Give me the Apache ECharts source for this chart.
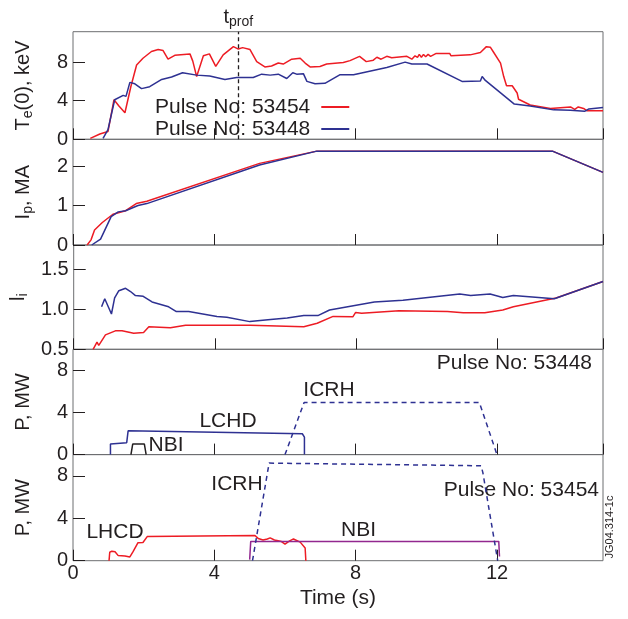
<!DOCTYPE html>
<html>
<head>
<meta charset="utf-8">
<script src="https://cdn.jsdelivr.net/npm/echarts@6/dist/echarts.min.js"></script>
<style>
  html, body { margin: 0; padding: 0; background: #fff; }
  #main { width: 628px; height: 619px; }
</style>
</head>
<body>
<div id="main"></div>
<script>
// time (s), value pairs
const teRed = [[0.49,0.1],[0.76,0.55],[0.99,0.8],[1.04,1.0],[1.16,4.1],[1.3,3.45],[1.47,2.75],[1.64,5.5],[1.8,7.7],[1.98,8.4],[2.22,9.1],[2.41,9.3],[2.55,9.2],[2.69,8.3],[2.88,8.7],[3.31,8.85],[3.39,8.1],[3.5,6.5],[3.69,8.65],[3.86,8.85],[4.04,7.55],[4.25,8.75],[4.54,9.6],[4.68,9.35],[4.8,9.5],[5.01,9.3],[5.2,8.05],[5.43,7.5],[5.62,7.6],[5.81,7.9],[5.95,7.8],[6.19,8.3],[6.43,8.4],[6.57,7.9],[6.71,7.5],[6.99,7.55],[7.18,7.8],[7.65,7.95],[7.84,8.15],[8.11,8.6],[8.3,8.05],[8.5,8.2],[8.6,8.5],[8.72,8.3],[8.88,8.6],[9.02,8.45],[9.45,8.6],[9.59,8.3],[9.68,8.65],[9.75,8.5],[9.8,8.8],[9.86,8.5],[9.92,8.8],[9.98,8.55],[10.05,8.8],[10.12,8.6],[10.2,8.75],[10.28,8.9],[10.66,8.9],[10.7,8.65],[11.24,8.75],[11.53,9.0],[11.7,9.6],[11.81,9.55],[11.89,9.1],[12.1,7.9],[12.19,6.5],[12.27,5.55],[12.43,5.55],[12.57,4.8],[12.61,4.15],[12.94,3.55],[13.51,3.2],[14.08,3.35],[14.2,3.1],[14.3,3.35],[14.45,3.2],[14.55,2.95],[15,2.95]];
const teBlue = [[0.85,0.1],[0.99,1.0],[1.18,4.1],[1.42,4.55],[1.5,4.45],[1.61,5.9],[1.75,5.75],[1.94,5.25],[2.17,5.45],[2.51,6.2],[2.79,6.45],[3.1,6.9],[3.5,6.65],[3.87,6.55],[4.3,6.2],[4.63,6.4],[5.1,6.4],[5.34,6.75],[5.58,6.65],[5.81,6.75],[6.05,6.3],[6.22,6.9],[6.33,6.75],[6.52,6.8],[6.62,6.0],[6.85,5.75],[7.13,5.8],[7.56,6.7],[7.94,6.7],[8.88,7.45],[9.4,8.0],[9.59,7.8],[10.02,7.8],[11.01,6.0],[11.53,6.05],[11.58,6.5],[11.67,6.1],[12.49,3.65],[12.94,3.45],[13.6,3.05],[14.08,3.0],[14.48,2.9],[14.6,3.15],[15,3.3]];

const ipRed = [[0.4,0],[0.51,0.13],[0.61,0.38],[0.83,0.57],[1.13,0.78],[1.49,0.87],[1.79,1.05],[2.09,1.11],[5.28,2.07],[6.9,2.38],[13.57,2.38],[15,1.84]];
const ipBlue = [[0.53,0],[0.78,0.15],[1.08,0.72],[1.28,0.84],[1.49,0.87],[1.84,1.0],[2.09,1.05],[5.28,2.03],[6.9,2.38],[13.57,2.38],[15,1.84]];

const liRed = [[0.55,0.5],[0.66,0.59],[0.71,0.55],[0.9,0.68],[1.18,0.73],[1.37,0.73],[1.7,0.7],[1.98,0.71],[2.13,0.78],[2.74,0.77],[3.17,0.8],[5.0,0.8],[6.52,0.78],[6.9,0.825],[7.35,0.91],[7.91,0.905],[7.99,0.96],[8.16,0.95],[9.22,0.98],[10.59,0.97],[11.04,0.955],[11.65,0.955],[12.16,0.99],[12.46,1.03],[13.67,1.14],[15,1.345]];
const liBlue = [[0.79,1.03],[0.88,1.13],[1.07,0.94],[1.16,1.14],[1.28,1.23],[1.47,1.26],[1.61,1.22],[1.75,1.17],[1.97,1.16],[2.22,1.09],[2.69,1.03],[2.91,0.97],[3.26,0.97],[4.06,0.91],[4.34,0.9],[4.99,0.845],[5.58,0.87],[6.05,0.89],[6.52,0.92],[6.92,0.92],[7.25,0.99],[8.52,1.09],[9.33,1.11],[10.94,1.19],[11.25,1.17],[11.8,1.19],[12.16,1.145],[12.46,1.17],[13.62,1.13],[15,1.345]];

// heating power, pulse 53448
const lhcd448 = [[1.06,0],[1.06,1.0],[1.52,1.13],[1.56,2.26],[6.49,1.98],[6.55,1.66],[6.55,0]];
const nbi448 = [[1.64,0],[1.69,1.0],[2.02,1.0],[2.07,0]];
const icrh448 = [[6.0,0],[6.54,4.95],[11.5,4.95],[12.0,0]];

// heating power, pulse 53454
const lhcd454 = [[1.02,0],[1.04,0.8],[1.1,0.9],[1.19,0.85],[1.28,0.48],[1.47,0.45],[1.61,0.35],[1.7,0.85],[1.84,1.7],[1.98,1.72],[2.1,2.27],[5.15,2.38],[5.24,2.1],[5.38,1.95],[5.5,2.05],[5.58,2.15],[5.7,1.95],[5.77,1.9],[5.9,1.8],[6.0,1.57],[6.12,1.85],[6.24,2.05],[6.43,1.75],[6.57,1.2],[6.59,0]];
const nbi454 = [[5.0,0.1],[5.03,1.82],[12.05,1.82],[12.07,0.4]];
const icrh454 = [[5.08,0],[5.55,9.2],[11.55,8.95],[11.6,8.3],[12.02,0]];

const tProf = 4.68;
const xTicks = { min: 0, max: 15, interval: 4 };

const RED = '#ed1c24', BLUE = '#2e3192', PURPLE = '#92278f', INK = '#231f20';
const FONT = 'Liberation Sans, Arial, Helvetica, sans-serif';

const panels = [
  { top: 31.7, height: 107.6, min: 0, max: 11.15, interval: 4, name: '{a|T}{b|e}{a|(0), keV}' },
  { top: 139.3, height: 105.7, min: 0, max: 2.68, interval: 1, name: '{a|I}{b|p}{a|, MA}' },
  { top: 245, height: 104.3, min: 0.5, max: 1.8, interval: 0.5, name: '{a|l}{b|i}', fmt: v => v.toFixed(1) },
  { top: 349.3, height: 105.3, min: 0, max: 10, interval: 4, name: '{a|P, MW}' },
  { top: 454.6, height: 106.1, min: 0, max: 10, interval: 4, name: '{a|P, MW}' }
];

const richName = {
  a: { fontSize: 20, fontFamily: FONT, color: INK, lineHeight: 24 },
  b: { fontSize: 14, fontFamily: FONT, color: INK, lineHeight: 12, verticalAlign: 'bottom' }
};

let myChart = echarts.init(document.getElementById('main'));

function line(name, data, idx, color, extra) {
  return Object.assign({
    name: name,
    type: 'line',
    xAxisIndex: idx,
    yAxisIndex: idx,
    data: data,
    showSymbol: false,
    symbol: 'none',
    animation: false,
    lineStyle: { color: color, width: 1.5 },
    itemStyle: { color: color }
  }, extra || {});
}

myChart.setOption({
  animation: false,
  textStyle: { fontFamily: FONT },
  grid: panels.map(p => ({
    left: 73, right: 25, top: p.top, height: p.height,
    show: true, borderColor: '#6d6e71', borderWidth: 1
  })),
  xAxis: panels.map((p, i) => ({
    gridIndex: i,
    type: 'value',
    min: xTicks.min, max: xTicks.max, interval: xTicks.interval,
    axisLine: { show: false },
    axisTick: { show: true, inside: true, length: 11, lineStyle: { color: INK } },
    splitLine: { show: false },
    axisLabel: { show: i === 4, fontSize: 20, color: INK, margin: 3, showMaxLabel: false },
    name: i === 4 ? 'Time (s)' : '',
    nameLocation: 'middle',
    nameGap: 27,
    nameTextStyle: { fontSize: 21, color: INK }
  })),
  yAxis: panels.map((p, i) => ({
    gridIndex: i,
    type: 'value',
    min: p.min, max: p.max, interval: p.interval,
    axisLine: { show: false },
    axisTick: { show: true, inside: true, length: 12, lineStyle: { color: INK } },
    splitLine: { show: false },
    axisLabel: { fontSize: 20, color: INK, margin: 5, showMaxLabel: false, formatter: p.fmt },
    name: p.name,
    nameLocation: 'middle',
    nameGap: 38,
    nameTextStyle: { rich: richName }
  })),
  legend: {
    data: ['Pulse No: 53454', 'Pulse No: 53448'],
    left: 150,
    top: 91,
    orient: 'vertical',
    align: 'right',
    icon: 'rect',
    itemWidth: 28,
    itemHeight: 2,
    itemGap: 0,
    selectedMode: false,
    textStyle: { fontSize: 21, color: INK, padding: [0, 6, 0, 0], lineHeight: 22 }
  },
  graphic: [
    { type: 'text', x: 592, y: 363.5, style: { text: 'Pulse No: 53448', fill: INK, font: '21px ' + FONT, align: 'right', verticalAlign: 'middle' } },
    { type: 'text', x: 329, y: 390, style: { text: 'ICRH', fill: INK, font: '21px ' + FONT, align: 'center', verticalAlign: 'middle' } },
    { type: 'text', x: 228, y: 421.7, style: { text: 'LCHD', fill: INK, font: '21px ' + FONT, align: 'center', verticalAlign: 'middle' } },
    { type: 'text', x: 166, y: 445, style: { text: 'NBI', fill: INK, font: '21px ' + FONT, align: 'center', verticalAlign: 'middle' } },
    { type: 'text', x: 237, y: 484.3, style: { text: 'ICRH', fill: INK, font: '21px ' + FONT, align: 'center', verticalAlign: 'middle' } },
    { type: 'text', x: 599, y: 490.7, style: { text: 'Pulse No: 53454', fill: INK, font: '21px ' + FONT, align: 'right', verticalAlign: 'middle' } },
    { type: 'text', x: 115, y: 532.7, style: { text: 'LHCD', fill: INK, font: '21px ' + FONT, align: 'center', verticalAlign: 'middle' } },
    { type: 'text', x: 358.5, y: 530.7, style: { text: 'NBI', fill: INK, font: '21px ' + FONT, align: 'center', verticalAlign: 'middle' } },
    { type: 'text', x: 610, y: 527, rotation: Math.PI / 2, style: { text: 'JG04.314-1c', fill: INK, font: '11px ' + FONT, align: 'center', verticalAlign: 'middle' } }
  ],
  series: [
    line('Pulse No: 53454', teRed, 0, RED, {
      markLine: {
        silent: true,
        symbol: 'none',
        animation: false,
        lineStyle: { color: INK, type: [4, 3], width: 1.3 },
        label: {
          position: 'end',
          distance: 3,
          formatter: '{t|t}{s|prof}',
          rich: {
            t: { fontSize: 20, color: INK, fontFamily: FONT, lineHeight: 22 },
            s: { fontSize: 14, color: INK, fontFamily: FONT, lineHeight: 10, verticalAlign: 'bottom' }
          }
        },
        data: [{ xAxis: tProf }]
      }
    }),
    line('Pulse No: 53448', teBlue, 0, BLUE),
    line('Ip 53454', ipRed, 1, RED),
    line('Ip 53448', ipBlue, 1, BLUE),
    line('li 53454', liRed, 2, RED),
    line('li 53448', liBlue, 2, BLUE),
    line('LHCD 53448', lhcd448, 3, BLUE),
    line('NBI 53448', nbi448, 3, INK),
    line('ICRH 53448', icrh448, 3, BLUE, { lineStyle: { color: BLUE, width: 1.5, type: [5, 4] } }),
    line('LHCD 53454', lhcd454, 4, RED),
    line('NBI 53454', nbi454, 4, PURPLE),
    line('ICRH 53454', icrh454, 4, BLUE, { lineStyle: { color: BLUE, width: 1.5, type: [5, 4] } })
  ]
});
</script>
</body>
</html>
